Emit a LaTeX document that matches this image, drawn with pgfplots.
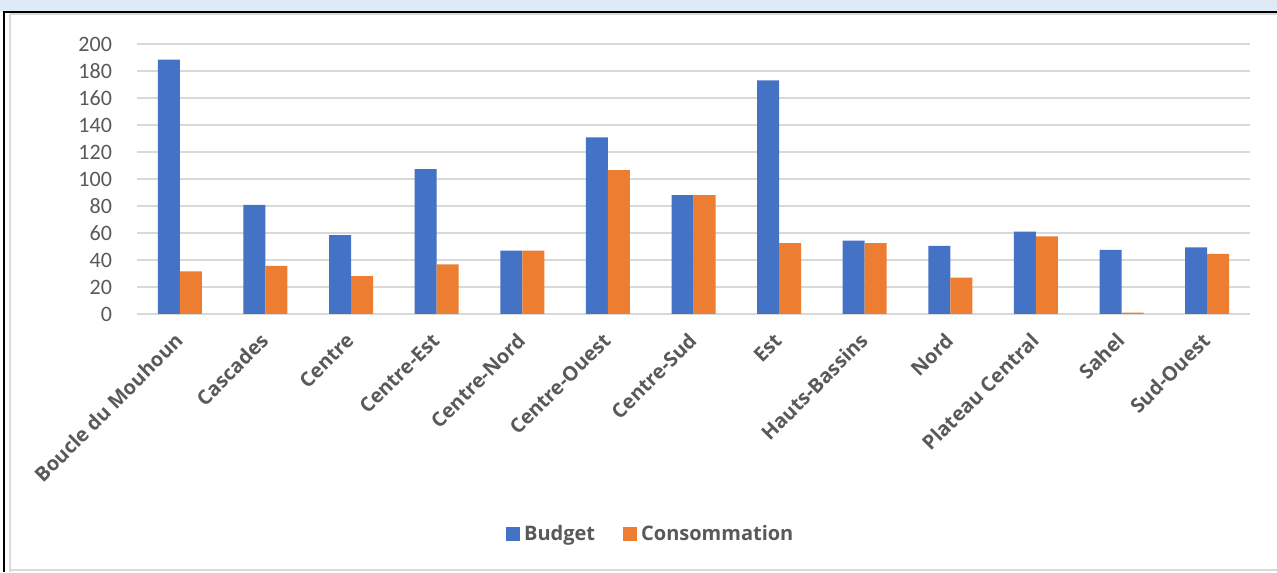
\documentclass[border=0pt]{standalone}
\usepackage{pgfplots}
\pgfplotsset{compat=1.18}
\usepackage{fontspec}
\setmainfont{Open Sans}
\newfontfamily\carlito{Carlito}
\definecolor{cblue}{HTML}{4472C4}
\definecolor{corange}{HTML}{ED7D31}
\definecolor{tgrey}{HTML}{595959}
\definecolor{ggrey}{HTML}{D9D9D9}
\definecolor{strip}{HTML}{DEEAF6}
\begin{document}
\begin{tikzpicture}
\useasboundingbox (0,0) rectangle (638.5pt,286pt);
\fill[strip] (0,280pt) rectangle (638.5pt,286pt);
\draw[ggrey, line width=1pt] (5pt,0.8pt) -- (638.5pt,0.8pt);
\draw[ggrey, line width=1pt] (5.2pt,0pt) -- (5.2pt,279pt);
\draw[ggrey, line width=1pt] (5pt,279pt) -- (638.5pt,279pt);
\draw[black, line width=1.1pt] (2pt,280pt) -- (638.5pt,280pt);
\draw[black, line width=1.1pt] (2pt,0pt) -- (2pt,280.5pt);
\begin{axis}[
  at={(68.5pt,129pt)}, anchor=south west,
  scale only axis, width=556.5pt, height=135pt,
  xmin=-0.5, xmax=12.5, ymin=0, ymax=200,
  ybar=0pt, bar width=11pt,
  axis line style={draw=none},
  major tick length=0pt,
  ytick={0,20,...,200},
  ymajorgrids, grid style={ggrey, line width=0.75pt},
  xtick={0,...,12},
  xticklabels={Boucle du Mouhoun,Cascades,Centre,Centre-Est,Centre-Nord,Centre-Ouest,Centre-Sud,Est,Hauts-Bassins,Nord,Plateau Central,Sahel,Sud-Ouest},
  xticklabel style={font=\bfseries\fontsize{10}{12}\selectfont, text=tgrey, yshift=-9pt, xshift=2pt, rotate=45, anchor=east},
  yticklabel style={font=\carlito\fontsize{11}{13}\selectfont, text=tgrey, anchor=east, xshift=-9pt},
  /pgf/number format/assume math mode=true,
  legend style={at={(0.4625,-0.815)}, anchor=center, draw=none, fill=none,
    legend columns=2, font=\bfseries\fontsize{10}{12}\selectfont, text=tgrey,
    /tikz/every even column/.append style={column sep=12pt}},
  legend image code/.code={\fill[#1] (0pt,-3.5pt) rectangle (7pt,3.5pt);},
]
\addplot[fill=cblue, draw=none] coordinates {
(0,188.5) (1,80.8) (2,58.4) (3,107.4) (4,47) (5,130.8) (6,88) (7,173) (8,54.3) (9,50.5) (10,61) (11,47.5) (12,49.3)};
\addplot[fill=corange, draw=none] coordinates {
(0,31.5) (1,35.7) (2,28) (3,36.7) (4,47) (5,106.5) (6,88) (7,52.5) (8,52.5) (9,27) (10,57.5) (11,1) (12,44.5)};
\legend{Budget,Consommation}
\end{axis}
\end{tikzpicture}
\end{document}
